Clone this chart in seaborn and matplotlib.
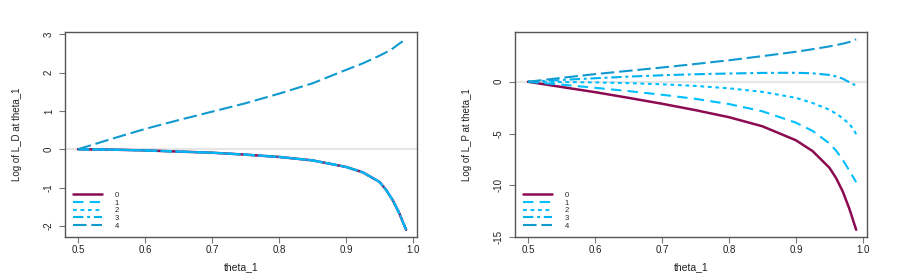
import numpy as np
import pandas as pd
import matplotlib
matplotlib.use("Agg")
import matplotlib.pyplot as plt
import seaborn as sns

# ---- data ----
theta = [0.5, 0.55, 0.6, 0.65, 0.7, 0.75, 0.8, 0.85, 0.9, 0.925, 0.95, 0.96, 0.97, 0.98, 0.985, 0.99]
series_names = ["0", "1", "2", "3", "4"]

# left panel: Log of L_D (series 0-3 coincide)
ld_0 = [0, -0.01, -0.03, -0.06, -0.09, -0.14, -0.2, -0.29, -0.46, -0.6, -0.85, -1.06, -1.33, -1.68, -1.9, -2.1]
ld_1 = list(ld_0)
ld_2 = list(ld_0)
ld_3 = list(ld_0)
ld_4 = [0, 0.27, 0.53, 0.76, 0.98, 1.2, 1.45, 1.72, 2.07, 2.24, 2.44, 2.53, 2.63, 2.76, 2.82, 2.88]

# right panel: Log of L_P
lp_0 = [0, -0.5, -1.0, -1.55, -2.12, -2.74, -3.42, -4.3, -5.65, -6.7, -8.3, -9.3, -10.6, -12.3, -13.3, -14.3]
lp_1 = [0, -0.27, -0.58, -0.9, -1.25, -1.65, -2.15, -2.85, -3.95, -4.75, -5.95, -6.65, -7.55, -8.6, -9.15, -9.7]
lp_2 = [0, -0.02, -0.06, -0.13, -0.24, -0.4, -0.63, -0.97, -1.55, -2.05, -2.7, -3.08, -3.52, -4.1, -4.5, -5.06]
lp_3 = [0, 0.18, 0.34, 0.5, 0.63, 0.73, 0.8, 0.86, 0.87, 0.82, 0.66, 0.52, 0.3, -0.05, -0.22, -0.35]
lp_4 = [0, 0.38, 0.74, 1.06, 1.38, 1.72, 2.08, 2.48, 2.9, 3.15, 3.42, 3.55, 3.68, 3.85, 3.97, 4.1]

x_ticks = [0.5, 0.6, 0.7, 0.8, 0.9, 1.0]
left_yticks = [-2, -1, 0, 1, 2, 3]
right_yticks = [-15, -10, -5, 0]

# ---- styling ----
sns.set_theme(style="white")
plt.rcParams["font.family"] = ["Liberation Sans", "DejaVu Sans"]

palette = {"0": "#8B0A50", "1": "#00BFFF", "2": "#00BFFF", "3": "#00B2EE", "4": "#109ACF"}
dashes = {"0": "", "1": (5.0, 3.0), "2": (1.8, 1.8), "3": (5.0, 1.8, 1.4, 1.8), "4": (6.5, 2.3)}


def long_form(arrs):
    rows = []
    for name, vals in zip(series_names, arrs):
        for t, v in zip(theta, vals):
            rows.append({"theta_1": t, "value": v, "series": name})
    return pd.DataFrame(rows)


fig = plt.figure(figsize=(9.0, 2.77), dpi=100)
ax1 = fig.add_axes([0.0722, 0.1444, 0.391, 0.740])
ax2 = fig.add_axes([0.5722, 0.1444, 0.391, 0.740])

panels = [
    (ax1, long_form([ld_0, ld_1, ld_2, ld_3, ld_4]), "Log of L_D at theta_1", left_yticks, (-2.29, 3.06)),
    (ax2, long_form([lp_0, lp_1, lp_2, lp_3, lp_4]), "Log of L_P at theta_1", right_yticks, (-15.0, 4.81)),
]

for ax, df, ylab, yt, ylim in panels:
    ax.axhline(0, color="#e6e6e6", lw=1.6, zorder=0)
    sns.lineplot(data=df, x="theta_1", y="value", hue="series", style="series",
                 hue_order=series_names, style_order=series_names,
                 palette=palette, dashes=dashes, linewidth=1.5, ax=ax, legend=True)
    for line in ax.get_lines():
        if line.get_color() == palette["0"]:
            line.set_linewidth(1.8)
    handles, labels = ax.get_legend_handles_labels()
    ax.get_legend().remove()
    ax.legend(handles, labels, loc="lower left", bbox_to_anchor=(0.015, 0.02),
              frameon=False, fontsize=5.5, handlelength=3.8, handletextpad=1.6,
              labelspacing=0.05, borderaxespad=0.0)
    ax.set_xlim(0.4806, 1.006)
    ax.set_ylim(*ylim)
    ax.set_xticks(x_ticks)
    ax.set_xticklabels([f"{v:.1f}" for v in x_ticks])
    ax.set_yticks(yt)
    ax.set_yticklabels([str(v) for v in yt], rotation=90, va="center")
    ax.tick_params(axis="both", which="both", direction="out", length=4.5, width=0.8,
                   color="#777777", labelsize=7, labelcolor="#222222",
                   bottom=True, left=True)
    ax.tick_params(axis="x", pad=1.5)
    ax.tick_params(axis="y", pad=3.5)
    ax.set_xlabel("theta_1", fontsize=7.5, color="#222222", labelpad=5)
    ax.set_ylabel(ylab, fontsize=7, color="#222222", labelpad=16)
    for sp in ax.spines.values():
        sp.set_visible(True)
        sp.set_color("#555555")
        sp.set_linewidth(1.0)

fig.savefig("out.png", dpi=100)
